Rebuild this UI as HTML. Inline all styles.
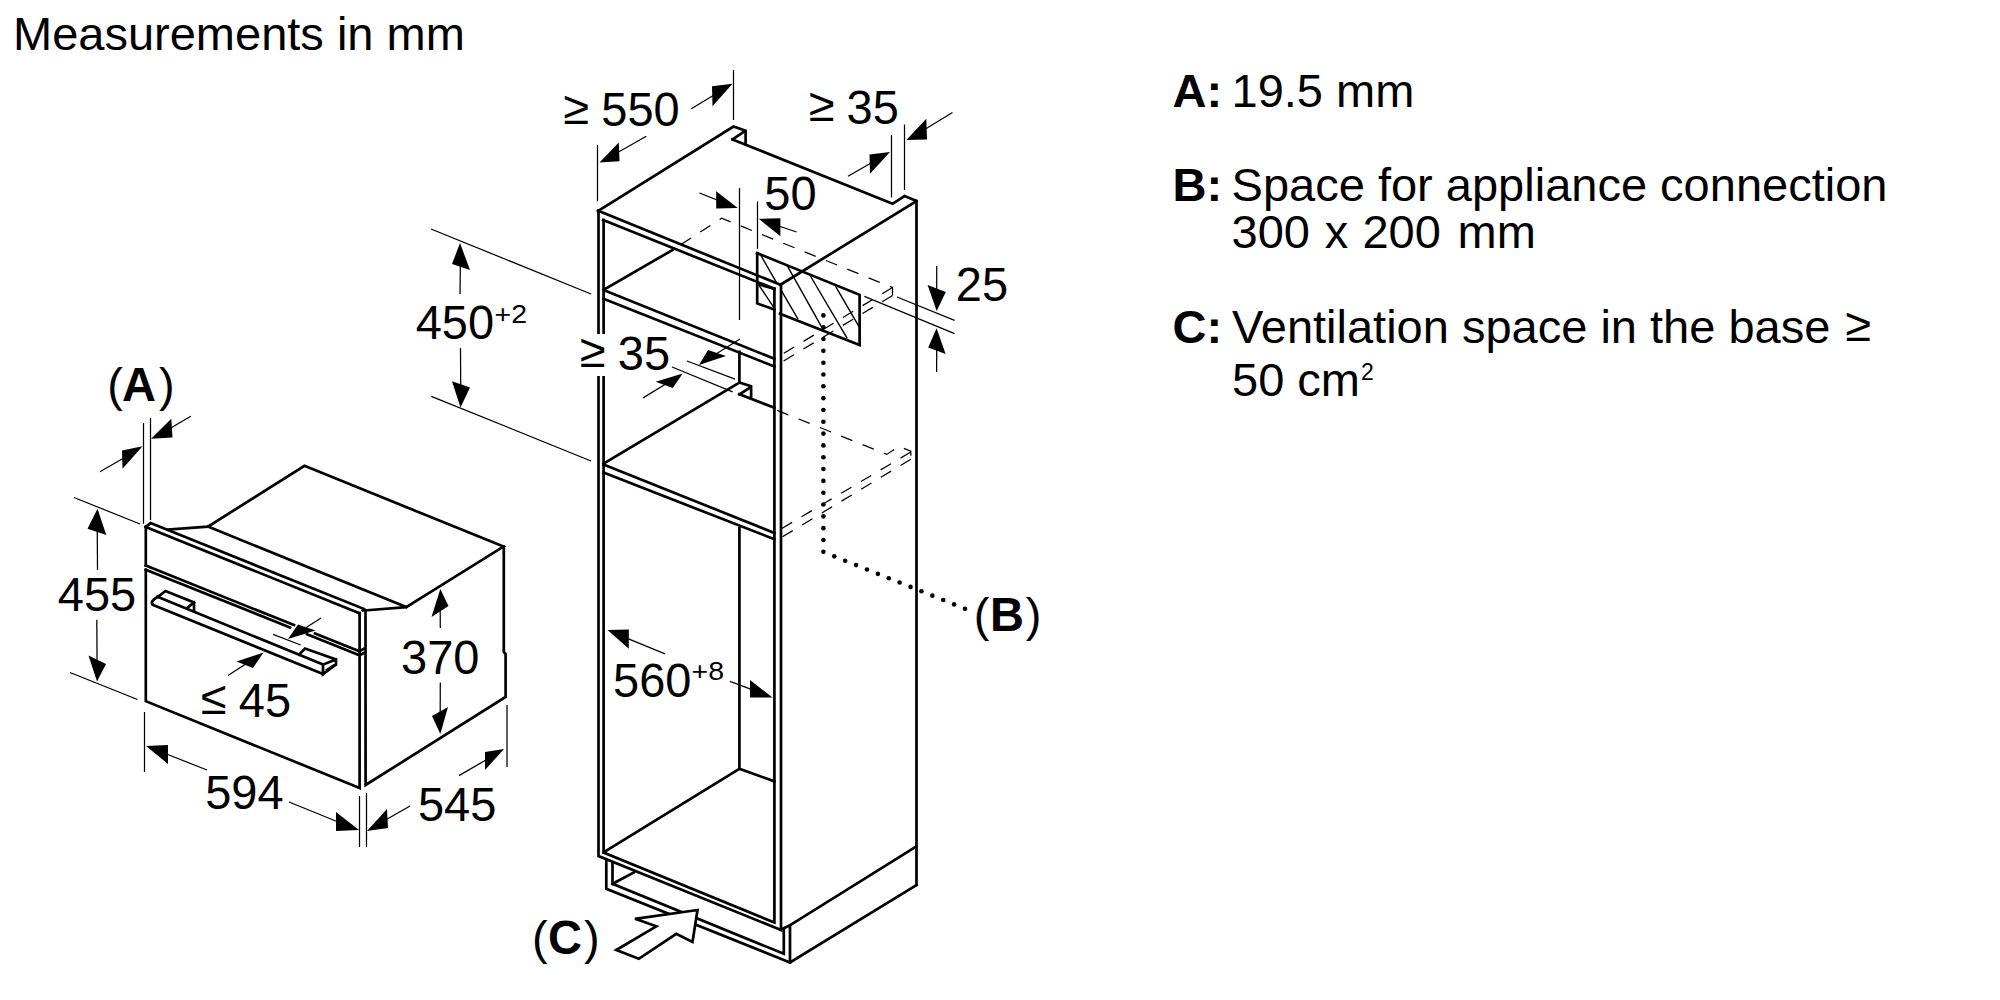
<!DOCTYPE html>
<html><head><meta charset="utf-8"><style>
html,body{margin:0;padding:0;background:#fff;width:2000px;height:1000px;overflow:hidden}
svg{position:absolute;left:0;top:0}
text{font-family:"Liberation Sans",sans-serif;fill:#000}
</style></head><body>
<svg width="2000" height="1000" viewBox="0 0 2000 1000">
<text x="13" y="50" font-size="47">Measurements in mm</text>
<text x="1172.5" y="107" font-size="47" font-weight="700">A:</text>
<text x="1231.5" y="107" font-size="47">19.5 mm</text>
<text x="1172.5" y="201" font-size="47" font-weight="700">B:</text>
<text x="1231.6" y="201" font-size="47">Space for appliance connection</text>
<text x="1231.6" y="248" font-size="47">300<tspan dx="1.8"> x</tspan><tspan dx="1.0"> 200</tspan><tspan dx="3.6"> mm</tspan></text>
<text x="1172.5" y="343" font-size="47" font-weight="700">C:</text>
<text x="1232" y="343" font-size="47">Ventilation space in the base <tspan dx="2" dy="-2.5">≥</tspan></text>
<text x="1232" y="396" font-size="47">50 cm<tspan font-size="23" dy="-16" dx="1">2</tspan></text>
<polyline points="167.50,529.60 208.00,526.60 304.50,465.80 503.50,546.60 406.20,607.10 365.50,610.40" fill="none" stroke="#000" stroke-width="2.7" stroke-linejoin="miter" stroke-linecap="square"/>
<polyline points="208.00,526.60 406.20,607.10" fill="none" stroke="#000" stroke-width="2.7" stroke-linejoin="miter" stroke-linecap="square"/>
<polyline points="145.80,526.90 150.60,523.10 363.70,608.80 362.70,610.40" fill="none" stroke="#000" stroke-width="2.7" stroke-linejoin="miter" stroke-linecap="square"/>
<polyline points="145.80,526.90 359.40,613.20" fill="none" stroke="#000" stroke-width="2.7" stroke-linejoin="miter" stroke-linecap="square"/>
<polyline points="145.80,526.90 145.80,565.60" fill="none" stroke="#000" stroke-width="2.7" stroke-linejoin="miter" stroke-linecap="square"/>
<polyline points="145.80,569.80 145.80,701.20 359.60,788.00 359.60,613.20" fill="none" stroke="#000" stroke-width="2.7" stroke-linejoin="miter" stroke-linecap="square"/>
<polyline points="365.50,610.40 365.60,785.00 505.60,697.00 505.60,654.00 503.80,652.00 503.80,546.60" fill="none" stroke="#000" stroke-width="2.7" stroke-linejoin="miter" stroke-linecap="square"/>
<polyline points="145.80,565.60 294.00,625.11" fill="none" stroke="#000" stroke-width="2.7" stroke-linejoin="miter" stroke-linecap="square"/>
<polyline points="315.00,633.49 359.40,651.20 364.80,648.30" fill="none" stroke="#000" stroke-width="2.7" stroke-linejoin="miter" stroke-linecap="square"/>
<polyline points="145.80,569.80 290.00,627.40" fill="none" stroke="#000" stroke-width="2.7" stroke-linejoin="miter" stroke-linecap="square"/>
<polyline points="307.00,634.20 359.40,655.20 364.80,652.60" fill="none" stroke="#000" stroke-width="2.7" stroke-linejoin="miter" stroke-linecap="square"/>
<polyline points="157.50,596.80 323.00,664.60" fill="none" stroke="#000" stroke-width="2.7" stroke-linejoin="miter" stroke-linecap="square"/>
<polyline points="153.20,605.00 323.00,674.00" fill="none" stroke="#000" stroke-width="2.7" stroke-linejoin="miter" stroke-linecap="square"/>
<polyline points="158.00,596.80 165.50,591.00 194.00,602.50 194.00,611.00" fill="none" stroke="#000" stroke-width="2.7" stroke-linejoin="miter" stroke-linecap="square"/>
<polyline points="187.00,608.00 194.00,602.50" fill="none" stroke="#000" stroke-width="2.7" stroke-linejoin="miter" stroke-linecap="square"/>
<polyline points="299.00,654.60 305.00,648.50 336.00,659.50 336.00,664.50 323.00,674.00 323.00,664.60 336.00,659.50" fill="none" stroke="#000" stroke-width="2.7" stroke-linejoin="miter" stroke-linecap="square"/>
<path d="M158,596.8 Q149,601.5 153.2,605" fill="none" stroke="#000" stroke-width="2.7"/>
<polyline points="325.50,670.00 334.00,664.50" fill="none" stroke="#000" stroke-width="1.4" stroke-linecap="butt"/>
<polyline points="143.50,423.00 143.50,523.80" fill="none" stroke="#000" stroke-width="1.25" stroke-linecap="butt"/>
<polyline points="150.50,418.00 150.50,520.00" fill="none" stroke="#000" stroke-width="1.25" stroke-linecap="butt"/>
<line x1="100" y1="471.8" x2="132.38" y2="452.98" stroke="#000" stroke-width="1.25"/>
<polygon points="142.50,446.30 122.00,450.50 122.50,468.80" fill="#000"/>
<line x1="190.8" y1="416.3" x2="161.45" y2="433.48" stroke="#000" stroke-width="1.25"/>
<polygon points="151.00,438.80 171.30,418.80 172.50,437.50" fill="#000"/>
<text transform="translate(107.2,401) scale(1,1)" x="0" y="0" font-size="47" font-weight="400" text-anchor="start">(</text>
<text transform="translate(122.1,401) scale(1,1.03)" x="0" y="0" font-size="47" font-weight="700" text-anchor="start">A</text>
<text transform="translate(159,401) scale(1,1)" x="0" y="0" font-size="47" font-weight="400" text-anchor="start">)</text>
<polyline points="74.00,497.50 140.00,524.00" fill="none" stroke="#000" stroke-width="1.25" stroke-linecap="butt"/>
<polyline points="70.00,672.50 137.50,699.50" fill="none" stroke="#000" stroke-width="1.25" stroke-linecap="butt"/>
<line x1="97.5" y1="570" x2="97.20" y2="520.35" stroke="#000" stroke-width="1.25"/>
<polygon points="97.50,508.80 87.50,528.80 106.30,535.00" fill="#000"/>
<line x1="96.8" y1="619.8" x2="97.12" y2="670.62" stroke="#000" stroke-width="1.25"/>
<polygon points="97.00,681.50 88.50,655.50 106.00,664.00" fill="#000"/>
<text transform="translate(57.8,610.5) scale(1,1.03)" x="0" y="0" font-size="47" font-weight="400" text-anchor="start">455</text>
<line x1="440.3" y1="628" x2="440.15" y2="600.25" stroke="#000" stroke-width="1.25"/>
<polygon points="440.30,589.00 431.50,617.00 448.50,606.00" fill="#000"/>
<line x1="440.3" y1="682.5" x2="440.15" y2="722.75" stroke="#000" stroke-width="1.25"/>
<polygon points="440.30,734.00 432.00,716.00 448.00,707.00" fill="#000"/>
<text transform="translate(401,673.5) scale(1,1.03)" x="0" y="0" font-size="47" font-weight="400" text-anchor="start">370</text>
<polyline points="273.10,634.40 300.60,645.00" fill="none" stroke="#000" stroke-width="1.25" stroke-linecap="butt"/>
<line x1="321" y1="618" x2="297.38" y2="633.25" stroke="#000" stroke-width="1.25"/>
<polygon points="288.00,639.00 298.00,624.50 315.50,630.50" fill="#000"/>
<line x1="228" y1="675.5" x2="254.12" y2="658.62" stroke="#000" stroke-width="1.25"/>
<polygon points="263.50,652.50 236.50,661.50 253.00,668.00" fill="#000"/>
<text transform="translate(201,713.9) scale(1,1.0)" x="0" y="0" font-size="47" font-weight="400" text-anchor="start">≤</text>
<text transform="translate(238.75,716.5) scale(1,1.03)" x="0" y="0" font-size="47" font-weight="400" text-anchor="start">45</text>
<polyline points="144.50,712.00 144.50,772.00" fill="none" stroke="#000" stroke-width="1.25" stroke-linecap="butt"/>
<polyline points="359.50,796.00 359.50,847.00" fill="none" stroke="#000" stroke-width="1.25" stroke-linecap="butt"/>
<polyline points="366.50,793.00 366.50,847.00" fill="none" stroke="#000" stroke-width="1.25" stroke-linecap="butt"/>
<line x1="207" y1="770" x2="157.00" y2="750.25" stroke="#000" stroke-width="1.25"/>
<polygon points="146.00,746.00 168.00,745.00 168.00,764.00" fill="#000"/>
<line x1="289" y1="802" x2="347.50" y2="825.75" stroke="#000" stroke-width="1.25"/>
<polygon points="359.00,830.00 336.00,812.00 336.00,831.00" fill="#000"/>
<text transform="translate(205.2,808.5) scale(1,1.03)" x="0" y="0" font-size="47" font-weight="400" text-anchor="start">594</text>
<polyline points="507.00,705.00 507.00,767.00" fill="none" stroke="#000" stroke-width="1.25" stroke-linecap="butt"/>
<line x1="410" y1="806" x2="377.25" y2="824.75" stroke="#000" stroke-width="1.25"/>
<polygon points="367.00,831.00 387.00,809.00 388.00,828.00" fill="#000"/>
<line x1="459" y1="775.6" x2="494.50" y2="755.00" stroke="#000" stroke-width="1.25"/>
<polygon points="504.00,749.00 485.00,752.00 485.00,770.00" fill="#000"/>
<text transform="translate(417.9,821.3) scale(1,1.03)" x="0" y="0" font-size="47" font-weight="400" text-anchor="start">545</text>
<polyline points="598.20,210.80 733.50,126.50 745.60,130.60 745.60,143.80" fill="none" stroke="#000" stroke-width="2.7" stroke-linejoin="miter" stroke-linecap="square"/>
<polyline points="732.50,139.40 743.80,131.90" fill="none" stroke="#000" stroke-width="2.7" stroke-linejoin="miter" stroke-linecap="square"/>
<polyline points="732.50,139.40 892.60,203.80 904.50,196.10 916.50,201.00 916.50,885.00" fill="none" stroke="#000" stroke-width="2.7" stroke-linejoin="miter" stroke-linecap="square"/>
<polyline points="916.50,201.00 780.40,284.80" fill="none" stroke="#000" stroke-width="2.7" stroke-linejoin="miter" stroke-linecap="square"/>
<polyline points="598.20,210.80 780.40,284.80" fill="none" stroke="#000" stroke-width="2.7" stroke-linejoin="miter" stroke-linecap="square"/>
<polyline points="603.20,220.00 774.40,288.80" fill="none" stroke="#000" stroke-width="2.7" stroke-linejoin="miter" stroke-linecap="square"/>
<polyline points="598.50,211.00 598.50,856.00 781.00,930.00 781.00,284.80" fill="none" stroke="#000" stroke-width="2.7" stroke-linejoin="miter" stroke-linecap="square"/>
<polyline points="603.60,220.00 603.60,852.50 774.40,922.50 774.40,288.80" fill="none" stroke="#000" stroke-width="2.7" stroke-linejoin="miter" stroke-linecap="square"/>
<polyline points="603.50,290.00 774.40,358.80" fill="none" stroke="#000" stroke-width="2.7" stroke-linejoin="miter" stroke-linecap="square"/>
<polyline points="603.50,298.80 774.40,366.50" fill="none" stroke="#000" stroke-width="2.7" stroke-linejoin="miter" stroke-linecap="square"/>
<polyline points="603.50,290.00 672.50,250.00" fill="none" stroke="#000" stroke-width="2.7" stroke-linejoin="miter" stroke-linecap="square"/>
<polyline points="681.00,244.50 721.60,218.20 892.50,287.50 892.50,295.50" fill="none" stroke="#000" stroke-width="1.25" stroke-dasharray="12 11" stroke-dashoffset="0"/>
<polyline points="892.50,287.50 781.00,355.00" fill="none" stroke="#000" stroke-width="1.25" stroke-dasharray="12 11" stroke-dashoffset="0"/>
<polyline points="892.50,295.50 781.00,362.50" fill="none" stroke="#000" stroke-width="1.25" stroke-dasharray="12 11" stroke-dashoffset="0"/>
<polyline points="739.40,351.80 739.40,382.60 751.10,386.20 751.10,397.90" fill="none" stroke="#000" stroke-width="2.7" stroke-linejoin="miter" stroke-linecap="square"/>
<polyline points="739.40,394.30 749.30,388.00" fill="none" stroke="#000" stroke-width="2.7" stroke-linejoin="miter" stroke-linecap="square"/>
<polyline points="739.40,394.30 774.40,407.80" fill="none" stroke="#000" stroke-width="2.7" stroke-linejoin="miter" stroke-linecap="square"/>
<polyline points="777.20,410.40 886.80,454.40 898.80,446.40 910.80,451.20 910.80,459.20" fill="none" stroke="#000" stroke-width="1.25" stroke-dasharray="12 11" stroke-dashoffset="0"/>
<polyline points="910.80,452.00 781.20,528.80" fill="none" stroke="#000" stroke-width="1.25" stroke-dasharray="12 11" stroke-dashoffset="0"/>
<polyline points="910.80,459.20 781.20,537.60" fill="none" stroke="#000" stroke-width="1.25" stroke-dasharray="12 11" stroke-dashoffset="0"/>
<polyline points="603.50,463.60 739.40,382.60" fill="none" stroke="#000" stroke-width="2.7" stroke-linejoin="miter" stroke-linecap="square"/>
<polyline points="603.50,464.50 774.40,532.90" fill="none" stroke="#000" stroke-width="2.7" stroke-linejoin="miter" stroke-linecap="square"/>
<polyline points="603.50,472.60 774.40,539.20" fill="none" stroke="#000" stroke-width="2.7" stroke-linejoin="miter" stroke-linecap="square"/>
<polyline points="739.40,528.40 739.40,768.80 774.40,781.40" fill="none" stroke="#000" stroke-width="2.7" stroke-linejoin="miter" stroke-linecap="square"/>
<polyline points="603.50,852.50 739.40,768.80" fill="none" stroke="#000" stroke-width="2.7" stroke-linejoin="miter" stroke-linecap="square"/>
<polyline points="606.30,860.00 606.30,888.80 790.00,962.50 916.50,885.00" fill="none" stroke="#000" stroke-width="2.7" stroke-linejoin="miter" stroke-linecap="square"/>
<polyline points="612.50,863.80 612.50,883.80 783.80,953.80 783.80,930.00" fill="none" stroke="#000" stroke-width="2.7" stroke-linejoin="miter" stroke-linecap="square"/>
<polyline points="612.50,883.80 633.80,872.50" fill="none" stroke="#000" stroke-width="2.7" stroke-linejoin="miter" stroke-linecap="square"/>
<polyline points="790.00,962.50 790.00,925.80" fill="none" stroke="#000" stroke-width="2.7" stroke-linejoin="miter" stroke-linecap="square"/>
<polyline points="780.50,929.70 789.00,925.80 916.50,846.30" fill="none" stroke="#000" stroke-width="2.7" stroke-linejoin="miter" stroke-linecap="square"/>
<polyline points="757.20,253.20 859.60,294.80 859.60,345.00 780.00,313.80" fill="none" stroke="#000" stroke-width="2.7" stroke-linejoin="miter" stroke-linecap="square"/>
<polyline points="757.20,253.20 757.20,303.40 774.40,309.60" fill="none" stroke="#000" stroke-width="2.7" stroke-linejoin="miter" stroke-linecap="square"/>
<polyline points="758.50,284.40 774.40,288.80" fill="none" stroke="#000" stroke-width="2.7" stroke-linejoin="miter" stroke-linecap="square"/>
<polyline points="761.20,256.00 776.80,283.20" fill="none" stroke="#000" stroke-width="1.4" stroke-linecap="butt"/>
<polyline points="759.20,285.60 773.60,307.20" fill="none" stroke="#000" stroke-width="1.4" stroke-linecap="butt"/>
<polyline points="787.60,266.40 822.00,327.60" fill="none" stroke="#000" stroke-width="1.4" stroke-linecap="butt"/>
<polyline points="810.40,276.00 847.20,338.40" fill="none" stroke="#000" stroke-width="1.4" stroke-linecap="butt"/>
<polyline points="835.60,286.40 859.60,327.60" fill="none" stroke="#000" stroke-width="1.4" stroke-linecap="butt"/>
<polyline points="780.80,289.60 798.00,319.20" fill="none" stroke="#000" stroke-width="1.4" stroke-linecap="butt"/>
<circle cx="823.40" cy="315.40" r="2.3" fill="#000"/>
<circle cx="823.40" cy="327.22" r="2.3" fill="#000"/>
<circle cx="823.40" cy="339.04" r="2.3" fill="#000"/>
<circle cx="823.40" cy="350.86" r="2.3" fill="#000"/>
<circle cx="823.40" cy="362.68" r="2.3" fill="#000"/>
<circle cx="823.40" cy="374.50" r="2.3" fill="#000"/>
<circle cx="823.40" cy="386.32" r="2.3" fill="#000"/>
<circle cx="823.40" cy="398.14" r="2.3" fill="#000"/>
<circle cx="823.40" cy="409.96" r="2.3" fill="#000"/>
<circle cx="823.40" cy="421.78" r="2.3" fill="#000"/>
<circle cx="823.40" cy="433.60" r="2.3" fill="#000"/>
<circle cx="823.40" cy="445.42" r="2.3" fill="#000"/>
<circle cx="823.40" cy="457.24" r="2.3" fill="#000"/>
<circle cx="823.40" cy="469.06" r="2.3" fill="#000"/>
<circle cx="823.40" cy="480.88" r="2.3" fill="#000"/>
<circle cx="823.40" cy="492.70" r="2.3" fill="#000"/>
<circle cx="823.40" cy="504.52" r="2.3" fill="#000"/>
<circle cx="823.40" cy="516.34" r="2.3" fill="#000"/>
<circle cx="823.40" cy="528.16" r="2.3" fill="#000"/>
<circle cx="823.40" cy="539.98" r="2.3" fill="#000"/>
<circle cx="823.40" cy="551.80" r="2.3" fill="#000"/>
<circle cx="834.29" cy="556.37" r="2.3" fill="#000"/>
<circle cx="845.18" cy="560.73" r="2.3" fill="#000"/>
<circle cx="856.08" cy="565.10" r="2.3" fill="#000"/>
<circle cx="866.97" cy="569.46" r="2.3" fill="#000"/>
<circle cx="877.86" cy="573.83" r="2.3" fill="#000"/>
<circle cx="888.75" cy="578.19" r="2.3" fill="#000"/>
<circle cx="899.65" cy="582.56" r="2.3" fill="#000"/>
<circle cx="910.54" cy="586.92" r="2.3" fill="#000"/>
<circle cx="921.43" cy="591.29" r="2.3" fill="#000"/>
<circle cx="932.32" cy="595.65" r="2.3" fill="#000"/>
<circle cx="943.22" cy="600.02" r="2.3" fill="#000"/>
<circle cx="954.11" cy="604.38" r="2.3" fill="#000"/>
<circle cx="965.00" cy="608.75" r="2.3" fill="#000"/>
<polygon points="616.30,950.00 656.30,926.30 635.00,918.80 697.50,910.00 692.50,942.00 676.30,933.80 638.80,958.80" fill="#fff" stroke="#000" stroke-width="2.7" stroke-linejoin="miter"/>
<polyline points="733.50,70.00 733.50,120.00" fill="none" stroke="#000" stroke-width="1.25" stroke-linecap="butt"/>
<polyline points="597.50,145.00 597.50,201.30" fill="none" stroke="#000" stroke-width="1.25" stroke-linecap="butt"/>
<line x1="691.3" y1="108.8" x2="722.38" y2="90.05" stroke="#000" stroke-width="1.25"/>
<polygon points="732.50,83.80 712.00,86.30 712.50,106.30" fill="#000"/>
<line x1="646.3" y1="136.3" x2="609.33" y2="157.20" stroke="#000" stroke-width="1.25"/>
<polygon points="599.50,162.50 618.80,142.50 619.50,161.30" fill="#000"/>
<text transform="translate(563.45,123.80000000000001) scale(1,1.0)" x="0" y="0" font-size="47" font-weight="400" text-anchor="start">≥</text>
<text transform="translate(601.3,126.4) scale(1,1.03)" x="0" y="0" font-size="47" font-weight="400" text-anchor="start">550</text>
<polyline points="891.50,135.00 891.50,197.50" fill="none" stroke="#000" stroke-width="1.25" stroke-linecap="butt"/>
<polyline points="904.50,124.50 904.50,190.00" fill="none" stroke="#000" stroke-width="1.25" stroke-linecap="butt"/>
<line x1="848" y1="176.3" x2="879.88" y2="158.07" stroke="#000" stroke-width="1.25"/>
<polygon points="890.00,152.00 869.50,154.50 870.00,173.80" fill="#000"/>
<line x1="952.5" y1="112.5" x2="916.47" y2="134.57" stroke="#000" stroke-width="1.25"/>
<polygon points="906.30,140.00 926.30,118.80 927.00,139.50" fill="#000"/>
<text transform="translate(808.9,121.4) scale(1,1.0)" x="0" y="0" font-size="47" font-weight="400" text-anchor="start">≥</text>
<text transform="translate(846.6,124) scale(1,1.03)" x="0" y="0" font-size="47" font-weight="400" text-anchor="start">35</text>
<polyline points="739.50,188.00 739.50,320.00" fill="none" stroke="#000" stroke-width="1.25" stroke-linecap="butt"/>
<polyline points="757.50,201.40 757.50,248.80" fill="none" stroke="#000" stroke-width="1.25" stroke-linecap="butt"/>
<line x1="699.4" y1="193" x2="727.00" y2="203.95" stroke="#000" stroke-width="1.25"/>
<polygon points="737.80,208.00 716.20,191.20 716.20,208.60" fill="#000"/>
<line x1="796.6" y1="232" x2="769.60" y2="223.00" stroke="#000" stroke-width="1.25"/>
<polygon points="758.80,218.80 780.40,218.20 780.40,236.20" fill="#000"/>
<text transform="translate(764.25,209.5) scale(1,1.03)" x="0" y="0" font-size="47" font-weight="400" text-anchor="start">50</text>
<polyline points="897.00,297.00 954.60,320.40" fill="none" stroke="#000" stroke-width="1.25" stroke-linecap="butt"/>
<polyline points="864.40,296.40 954.60,333.60" fill="none" stroke="#000" stroke-width="1.25" stroke-linecap="butt"/>
<line x1="936.7" y1="266" x2="936.70" y2="299.70" stroke="#000" stroke-width="1.25"/>
<polygon points="936.70,310.90 927.60,285.00 945.80,292.00" fill="#000"/>
<line x1="936.6" y1="372" x2="936.75" y2="339.45" stroke="#000" stroke-width="1.25"/>
<polygon points="936.60,328.20 928.20,347.40 945.60,354.00" fill="#000"/>
<text transform="translate(955.75,300.5) scale(1,1.03)" x="0" y="0" font-size="47" font-weight="400" text-anchor="start">25</text>
<polyline points="431.00,229.00 591.00,294.00" fill="none" stroke="#000" stroke-width="1.25" stroke-linecap="butt"/>
<polyline points="431.30,396.30 591.00,461.00" fill="none" stroke="#000" stroke-width="1.25" stroke-linecap="butt"/>
<line x1="460" y1="294" x2="460.50" y2="255.00" stroke="#000" stroke-width="1.25"/>
<polygon points="460.00,243.00 452.00,264.00 470.00,270.00" fill="#000"/>
<line x1="460.5" y1="348" x2="460.75" y2="395.95" stroke="#000" stroke-width="1.25"/>
<polygon points="460.50,407.50 452.00,381.30 470.00,387.50" fill="#000"/>
<text transform="translate(415.7,339.2) scale(1,1.03)" x="0" y="0" font-size="47" font-weight="400" text-anchor="start">450</text>
<text transform="translate(494.5,323) scale(1,0.92)" x="0" y="0" font-size="28.5" font-weight="400" text-anchor="start">+2</text>
<rect x="578" y="334" width="95" height="42" fill="#fff"/>
<text transform="translate(580.1,366.9) scale(1,1.0)" x="0" y="0" font-size="47" font-weight="400" text-anchor="start">≥</text>
<text transform="translate(617.8,369.5) scale(1,1.03)" x="0" y="0" font-size="47" font-weight="400" text-anchor="start">35</text>
<polyline points="687.00,361.00 735.00,379.20" fill="none" stroke="#000" stroke-width="1.25" stroke-linecap="butt"/>
<polyline points="672.00,367.00 732.60,391.80" fill="none" stroke="#000" stroke-width="1.25" stroke-linecap="butt"/>
<line x1="740" y1="339" x2="708.00" y2="359.00" stroke="#000" stroke-width="1.25"/>
<polygon points="699.00,365.00 708.00,350.00 726.00,356.00" fill="#000"/>
<line x1="643.1" y1="397.9" x2="673.48" y2="379.23" stroke="#000" stroke-width="1.25"/>
<polygon points="682.70,373.60 655.70,381.70 672.80,388.00" fill="#000"/>
<line x1="665" y1="653.8" x2="618.15" y2="634.58" stroke="#000" stroke-width="1.25"/>
<polygon points="607.50,630.00 628.80,629.50 628.80,648.80" fill="#000"/>
<line x1="730" y1="681.3" x2="761.25" y2="693.12" stroke="#000" stroke-width="1.25"/>
<polygon points="772.50,697.50 750.00,680.00 750.00,697.50" fill="#000"/>
<text transform="translate(613,697.3) scale(1,1.03)" x="0" y="0" font-size="47" font-weight="400" text-anchor="start">560</text>
<text transform="translate(691.5,680.2) scale(1,0.92)" x="0" y="0" font-size="28.5" font-weight="400" text-anchor="start">+8</text>
<text transform="translate(973.7,631) scale(1,1)" x="0" y="0" font-size="47" font-weight="400" text-anchor="start">(</text>
<text transform="translate(989.9,631) scale(1,1.03)" x="0" y="0" font-size="47" font-weight="700" text-anchor="start">B</text>
<text transform="translate(1025.8,631) scale(1,1)" x="0" y="0" font-size="47" font-weight="400" text-anchor="start">)</text>
<text transform="translate(531.9,953.8) scale(1,1)" x="0" y="0" font-size="47" font-weight="400" text-anchor="start">(</text>
<text transform="translate(547.9,953.8) scale(1,1.03)" x="0" y="0" font-size="47" font-weight="700" text-anchor="start">C</text>
<text transform="translate(584,953.8) scale(1,1)" x="0" y="0" font-size="47" font-weight="400" text-anchor="start">)</text>
</svg>
</body></html>
